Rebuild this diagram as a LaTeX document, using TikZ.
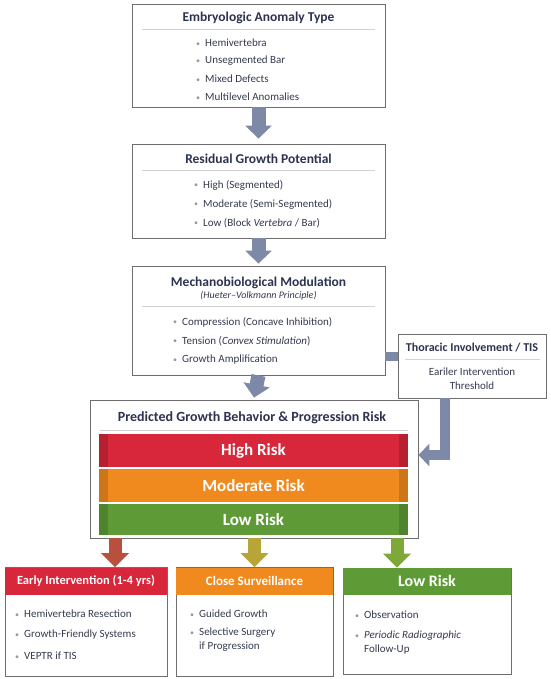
\documentclass[tikz,border=0pt]{standalone}
\usepackage{fontspec}
\setmainfont{Carlito}
\usepackage{xcolor}
\usetikzlibrary{arrows.meta}

\definecolor{navy}{HTML}{2B3350}
\definecolor{txt}{HTML}{353B4E}
\definecolor{frame}{HTML}{6E6E6E}
\definecolor{arrowgray}{HTML}{7D89A6}
\definecolor{riskred}{HTML}{D8263A}
\definecolor{riskorange}{HTML}{F08A1E}
\definecolor{riskgreen}{HTML}{5E9B37}
\definecolor{bulgray}{HTML}{9A9A9A}
\definecolor{arrowred}{HTML}{B9503E}
\definecolor{arrowolive}{HTML}{B8A53A}
\definecolor{arrowgreen}{HTML}{7FA83B}
\newcommand\bul{\makebox[9pt][l]{\color{bulgray}\raisebox{0.6pt}{\fontsize{8}{8}\selectfont\textbullet}}}

\begin{document}
\begin{tikzpicture}[x=1pt,y=-1pt,
  box/.style={draw=frame,line width=0.8pt,fill=white,inner sep=0pt},
  title/.style={font=\fontsize{13.5}{15}\selectfont\bfseries,text=navy,inner sep=0pt},
  item/.style={font=\fontsize{11}{13.5}\selectfont,text=txt,anchor=west,inner sep=0pt,align=left},
  rule/.style={draw=gray!35,line width=0.8pt},
  bigarrow/.style={arrowgray,line width=14pt,-{Triangle[width=26pt,length=13pt]}},
  band/.style={minimum width=309pt,minimum height=33pt,inner sep=0pt,text=white,
    font=\fontsize{17}{18}\selectfont\bfseries,
    path picture={\fill[black,opacity=0.15] (path picture bounding box.south west) rectangle ([xshift=9pt]path picture bounding box.north west);
                  \fill[black,opacity=0.15] (path picture bounding box.south east) rectangle ([xshift=-9pt]path picture bounding box.north east);}},
  header/.style={minimum height=27pt,inner sep=0pt,text=white,font=\fontsize{12.5}{14}\selectfont\bfseries}
]
  \useasboundingbox (0,0) rectangle (550,679);
  % ── Boxes ──────────────────────────────────────────
  \node[box,minimum width=253pt,minimum height=103pt] (anomaly) at (258.5,55.5) {};
  \node[title] (anomalyT) at (258.5,18) {Embryologic Anomaly Type};
  \draw[rule] (142,29) -- (375,29);
  \node[item] (anomaly1) at (196,43) {\bul Hemivertebra};
  \node[item] (anomaly2) at (196,61) {\bul Unsegmented Bar};
  \node[item] (anomaly3) at (196,79) {\bul Mixed Defects};
  \node[item] (anomaly4) at (196,97) {\bul Multilevel Anomalies};

  \node[box,minimum width=253pt,minimum height=94pt] (growth) at (258.5,191) {};
  \node[title] (growthT) at (258.5,159) {Residual Growth Potential};
  \draw[rule] (142,170) -- (375,170);
  \node[item] (growth1) at (194,185) {\bul High (Segmented)};
  \node[item] (growth2) at (194,204) {\bul Moderate (Semi-Segmented)};
  \node[item] (growth3) at (194,223) {\bul Low (Block \textit{Vertebra} / Bar)};

  \node[box,minimum width=253pt,minimum height=109pt] (mech) at (258.5,320.5) {};
  \node[title] (mechT) at (258.5,283) {Mechanobiological Modulation};
  \node[font=\fontsize{10}{11}\selectfont\itshape,text=txt,inner sep=0pt] (mechS) at (258.5,296) {(Hueter--Volkmann Principle)};
  \draw[rule] (142,306) -- (375,306);
  \node[item] (mech1) at (173,322) {\bul Compression (Concave Inhibition)};
  \node[item] (mech2) at (173,341) {\bul Tension (\textit{Convex Stimulation})};
  \node[item] (mech3) at (173,360) {\bul Growth Amplification};

  \node[box,minimum width=148pt,minimum height=64pt] (thor) at (472,366) {};
  \node[title,font=\fontsize{12}{14}\selectfont\bfseries] (thorT) at (472,348) {Thoracic Involvement / TIS};
  \draw[rule] (405,359) -- (540,359);
  \node[font=\fontsize{11}{13.5}\selectfont,text=txt,align=center,inner sep=0pt] (thorS) at (472,378.5) {Eariler Intervention\\Threshold};

  \node[box,minimum width=328pt,minimum height=138pt] (pred) at (254,469) {};
  \node[title,font=\fontsize{14}{16}\selectfont\bfseries] (predT) at (252,418) {Predicted Growth Behavior \& Progression Risk};
  \draw[rule] (100,430.5) -- (408,430.5);
  \node[band,fill=riskred] (high) at (253.5,450.5) {High Risk};
  \node[band,fill=riskorange] (moderate) at (253.5,485.5) {Moderate Risk};
  \node[band,fill=riskgreen,minimum height=31pt] (low) at (253.5,519.5) {Low Risk};

  \node[box,minimum width=162pt,minimum height=109pt] (early) at (86,622) {};
  \node[header,fill=riskred,minimum width=162pt] (earlyH) at (86,581) {Early Intervention (1-4 yrs)};
  \node[item] (early1) at (15,614) {\bul Hemivertebra Resection};
  \node[item] (early2) at (15,635) {\bul Growth-Friendly Systems};
  \node[item] (early3) at (15,656) {\bul VEPTR if TIS};

  \node[box,minimum width=157pt,minimum height=109pt] (close) at (254.5,622) {};
  \node[header,fill=riskorange,minimum width=157pt,font=\fontsize{13}{15}\selectfont\bfseries] (closeH) at (254.5,581) {Close Surveillance};
  \node[item] (close1) at (190,614) {\bul Guided Growth};
  \node[item,anchor=north west] (close2) at (190,628) {\bul Selective Surgery\\\hspace*{9pt}if Progression};

  \node[box,minimum width=168pt,minimum height=106pt] (watch) at (427,621) {};
  \node[header,fill=riskgreen,minimum width=168pt,font=\fontsize{16}{18}\selectfont\bfseries] (watchH) at (427,581) {Low Risk};
  \node[item] (watch1) at (355,615) {\bul Observation};
  \node[item,anchor=north west] (watch2) at (355,631) {\bul \textit{Periodic Radiographic}\\\hspace*{9pt}Follow-Up};

  % ── Arrows (box edge to box edge) ──────────────────
  \draw[bigarrow] (anomaly.south) -- ([yshift=5pt]growth.north);
  \draw[bigarrow] (growth.south) -- ([yshift=2pt]mech.north);
  \draw[bigarrow] (mech.south) -- ([yshift=2pt]pred.north);
  % TIS side branch
  \draw[arrowgray,line width=9pt] ([yshift=10pt]thor.west -| mech.east) -- ([yshift=10pt]thor.west);
  \draw[arrowgray,line width=10pt,line join=miter,-{Triangle[width=22pt,length=11pt]}]
    ([xshift=-27pt]thor.south) |- ([yshift=14pt]pred.east);
  % risk level → management
  \draw[line width=13pt,color=arrowred,-{Triangle[width=27pt,length=14pt]}]
    ([xshift=29pt]early.north |- pred.south) -- ([xshift=29pt]early.north);
  \draw[line width=13pt,color=arrowolive,-{Triangle[width=27pt,length=14pt]}]
    (close.north |- pred.south) -- (close.north);
  \draw[line width=13pt,color=arrowgreen,-{Triangle[width=27pt,length=14pt]}]
    ([xshift=-30pt]watch.north |- pred.south) -- ([xshift=-30pt]watch.north);
\end{tikzpicture}
\end{document}
